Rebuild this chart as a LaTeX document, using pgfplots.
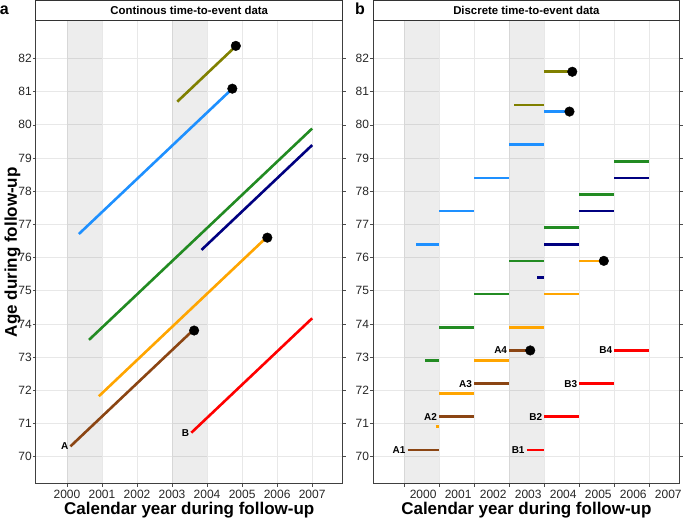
\documentclass[border=0pt]{standalone}
\usepackage{pgfplots}
\pgfplotsset{compat=1.18}
\usepackage{fontspec}
\setmainfont{Liberation Sans}
\usetikzlibrary{calc}

\definecolor{colOlive}{HTML}{808000}
\definecolor{colBlue}{HTML}{1E90FF}
\definecolor{colGreen}{HTML}{228B22}
\definecolor{colNavy}{HTML}{000080}
\definecolor{colOrange}{HTML}{FFA500}
\definecolor{colBrown}{HTML}{8B4513}
\definecolor{colRed}{HTML}{FF0000}

\pgfplotsset{
  panel/.style={
    scale only axis, width=307pt, height=463pt, clip=false,
    xmin=1999.11, xmax=2007.87, ymin=69.186, ymax=83.136,
    xtick={2000,...,2007}, ytick={70,...,82},
    /pgf/number format/assume math mode=true,
    /pgf/number format/set thousands separator={},
    ticklabel style={font=\fontsize{12}{14}\selectfont, text=black!85},
    y tick label style={xshift=2.5pt},
    tick align=outside, major tick length=3pt,
    tick style={black!70, line width=0.6pt},
    axis line style={black!75, line width=0.8pt},
    grid=major, grid style={black!9, line width=0.7pt},
    xlabel={Calendar year during follow-up},
    label style={font=\bfseries\fontsize{17}{20}\selectfont},
    xlabel style={yshift=3.5pt},
    every axis title/.style={at={(0.5,1)}, anchor=south, draw=black!80,
      line width=0.8pt, fill=white, minimum width=307pt, minimum height=20pt,
      inner sep=0pt, font=\bfseries\fontsize{11.4}{13}\selectfont},
    unbounded coords=jump,
    every axis plot/.append style={line width=2.6pt},
  },
  band/.style={fill=black, fill opacity=0.07, draw=none, line width=0pt},
  dot/.style={only marks, mark=*, mark size=4.8pt, black, line width=0.4pt},
}
\tikzset{
  lab/.style={font=\bfseries\fontsize{10}{12}\selectfont, anchor=east, inner sep=2pt},
  plab/.style={font=\bfseries\fontsize{16}{18}\selectfont, anchor=base west, inner sep=0pt},
}

\begin{document}
\begin{tikzpicture}
% panel a: continuous
\begin{axis}[panel, title={Continous time-to-event data},
  ylabel={Age during follow-up}, ylabel style={yshift=-9pt}]
\addplot[band] coordinates {(2000,69.186) (2001,69.186) (2001,83.136) (2000,83.136)} -- cycle;
\addplot[band] coordinates {(2003,69.186) (2004,69.186) (2004,83.136) (2003,83.136)} -- cycle;
\addplot[colOlive] coordinates {(2003.15,80.70) (2004.82,82.37)};
\addplot[colBlue] coordinates {(2000.34,76.71) (2004.72,81.09)};
\addplot[colGreen] coordinates {(2000.63,73.52) (2007.0,79.89)};
\addplot[colNavy] coordinates {(2003.84,76.23) (2007.0,79.39)};
\addplot[colOrange] coordinates {(2000.91,71.82) (2005.72,76.63)};
\addplot[colBrown] coordinates {(2000.10,70.31) (2003.63,73.84)};
\addplot[colRed] coordinates {(2003.55,70.72) (2007.0,74.17)};
\addplot[dot] coordinates {(2004.82,82.38) (2004.72,81.09) (2005.72,76.60) (2003.63,73.80)};
\node[lab] at (axis cs:2000.10,70.31) {A};
\node[lab] at (axis cs:2003.55,70.72) {B};
\node[plab] at ($(rel axis cs:0,1)+(-36pt,6pt)$) {a};
\end{axis}

% panel b: discrete
\begin{axis}[panel, at={(337.3pt,0pt)}, title={Discrete time-to-event data},
  x tick label style={xshift=19pt}]
\addplot[band] coordinates {(2000,69.186) (2001,69.186) (2001,83.136) (2000,83.136)} -- cycle;
\addplot[band] coordinates {(2003,69.186) (2004,69.186) (2004,83.136) (2003,83.136)} -- cycle;
\addplot[colOlive] coordinates {(2003.15,80.6) (2004,80.6) (2004,nan) (2004,81.6) (2004.80,81.6)};
\addplot[colBlue] coordinates {(2000.34,76.4) (2001,76.4) (2001,nan) (2001,77.4) (2002,77.4) (2002,nan)
  (2002,78.4) (2003,78.4) (2003,nan) (2003,79.4) (2004,79.4) (2004,nan) (2004,80.4) (2004.72,80.4)};
\addplot[colGreen] coordinates {(2000.6,72.9) (2001,72.9) (2001,nan) (2001,73.9) (2002,73.9) (2002,nan)
  (2002,74.9) (2003,74.9) (2003,nan) (2003,75.9) (2004,75.9) (2004,nan) (2004,76.9) (2005,76.9) (2005,nan)
  (2005,77.9) (2006,77.9) (2006,nan) (2006,78.9) (2007,78.9)};
\addplot[colNavy] coordinates {(2003.8,75.4) (2004,75.4) (2004,nan) (2004,76.4) (2005,76.4) (2005,nan)
  (2005,77.4) (2006,77.4) (2006,nan) (2006,78.4) (2007,78.4)};
\addplot[colOrange] coordinates {(2000.9,70.9) (2001,70.9) (2001,nan) (2001,71.9) (2002,71.9) (2002,nan)
  (2002,72.9) (2003,72.9) (2003,nan) (2003,73.9) (2004,73.9) (2004,nan) (2004,74.9) (2005,74.9) (2005,nan)
  (2005,75.9) (2005.7,75.9)};
\addplot[colBrown] coordinates {(2000.1,70.2) (2001,70.2) (2001,nan) (2001,71.2) (2002,71.2) (2002,nan)
  (2002,72.2) (2003,72.2) (2003,nan) (2003,73.2) (2003.6,73.2)};
\addplot[colRed] coordinates {(2003.5,70.2) (2004,70.2) (2004,nan) (2004,71.2) (2005,71.2) (2005,nan)
  (2005,72.2) (2006,72.2) (2006,nan) (2006,73.2) (2007,73.2)};
\addplot[dot] coordinates {(2004.80,81.6) (2004.72,80.4) (2005.7,75.9) (2003.6,73.2)};
\node[lab] at (axis cs:2000.1,70.2) {A1};
\node[lab] at (axis cs:2001,71.2) {A2};
\node[lab] at (axis cs:2002,72.2) {A3};
\node[lab] at (axis cs:2003,73.2) {A4};
\node[lab] at (axis cs:2003.5,70.2) {B1};
\node[lab] at (axis cs:2004,71.2) {B2};
\node[lab] at (axis cs:2005,72.2) {B3};
\node[lab] at (axis cs:2006,73.2) {B4};
\node[plab] at ($(rel axis cs:0,1)+(-18pt,6pt)$) {b};
\end{axis}
\end{tikzpicture}
\end{document}
